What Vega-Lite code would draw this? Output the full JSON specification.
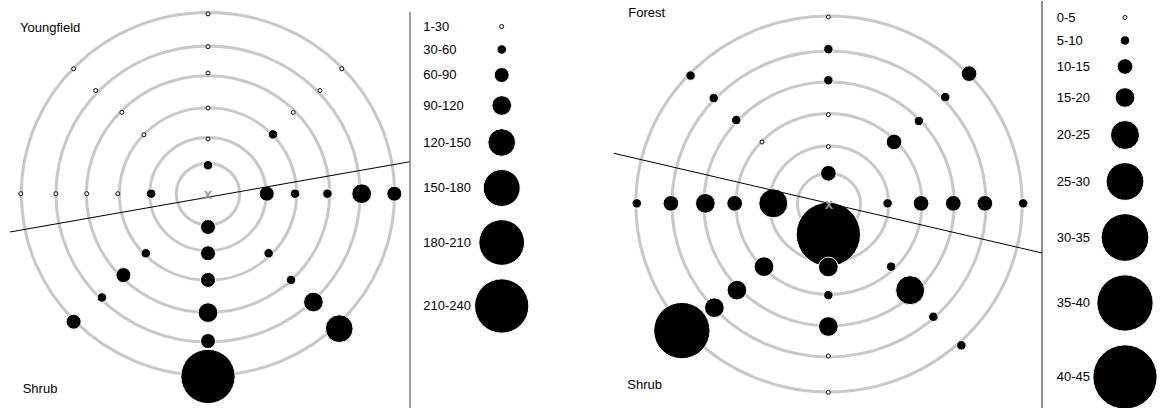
{
  "$schema": "https://vega.github.io/schema/vega-lite/v6.json",
  "padding": 0,
  "background": "white",
  "spacing": 190,
  "bounds": "flush",
  "config": {"view": {"stroke": null}},
  "resolve": {
    "scale": {"size": "independent", "fill": "independent", "stroke": "independent"},
    "legend": {"size": "independent", "fill": "independent", "stroke": "independent"}
  },
  "hconcat": [
    {
      "width": 410,
      "height": 408,
      "resolve": {"scale": {"size": "independent", "fill": "independent", "stroke": "independent"}},
      "layer": [
        {
          "data": {"values": [{"r": 1.02}, {"r": 1.87}, {"r": 2.85}, {"r": 3.91}, {"r": 4.89}, {"r": 6.0}]},
          "mark": {"type": "point", "shape": "M1,0C1,0.537,0.552,0.973,0,0.973C-0.552,0.973,-1,0.537,-1,0C-1,-0.537,-0.552,-0.973,0,-0.973C0.552,-0.973,1,-0.537,1,0Z", "filled": false, "color": "#c8c8c8", "strokeWidth": 3, "opacity": 1},
          "encoding": {
            "x": {"datum": 0, "type": "quantitative", "scale": {"domain": [-6.688, 6.495], "nice": false, "zero": false}, "axis": null},
            "y": {"datum": 0, "type": "quantitative", "scale": {"domain": [-7.105, 6.378], "nice": false, "zero": false}, "axis": null},
            "size": {"field": "r", "type": "quantitative", "scale": {"type": "pow", "exponent": 2, "domain": [0, 6], "range": [0, 139278]}, "legend": null}
          }
        },
        {
          "data": {"values": [
            {"x": 0, "y": 5.95, "n": 15}, {"x": 0, "y": 4.87, "n": 15}, {"x": 0, "y": 4.0, "n": 15}, {"x": 0, "y": 2.84, "n": 15}, {"x": 0, "y": 1.82, "n": 15}, {"x": 0, "y": 0.95, "n": 45},
            {"x": -4.32, "y": 4.14, "n": 15}, {"x": -3.61, "y": 3.42, "n": 15}, {"x": -2.77, "y": 2.70, "n": 15}, {"x": -2.06, "y": 1.96, "n": 15},
            {"x": 4.30, "y": 4.14, "n": 15}, {"x": 3.60, "y": 3.42, "n": 15}, {"x": 2.74, "y": 2.70, "n": 15}, {"x": 2.09, "y": 1.97, "n": 45},
            {"x": -6.02, "y": 0.01, "n": 15}, {"x": -4.89, "y": 0.01, "n": 15}, {"x": -3.90, "y": 0.01, "n": 15}, {"x": -2.90, "y": 0.01, "n": 15}, {"x": -1.83, "y": 0.01, "n": 45},
            {"x": 1.89, "y": 0.01, "n": 75}, {"x": 2.80, "y": 0.01, "n": 45}, {"x": 3.84, "y": 0.01, "n": 45}, {"x": 4.94, "y": 0.01, "n": 105}, {"x": 5.99, "y": 0.01, "n": 75},
            {"x": 0, "y": -1.09, "n": 75}, {"x": 0, "y": -1.96, "n": 75}, {"x": 0, "y": -2.84, "n": 75}, {"x": 0, "y": -3.92, "n": 105}, {"x": 0, "y": -4.86, "n": 75}, {"x": 0, "y": -6.03, "n": 225},
            {"x": -2.00, "y": -1.96, "n": 45}, {"x": -2.72, "y": -2.68, "n": 75}, {"x": -3.41, "y": -3.42, "n": 45}, {"x": -4.32, "y": -4.22, "n": 75},
            {"x": 1.95, "y": -1.96, "n": 45}, {"x": 2.67, "y": -2.84, "n": 45}, {"x": 3.39, "y": -3.57, "n": 105}, {"x": 4.22, "y": -4.45, "n": 135}
          ]},
          "mark": {"type": "circle", "opacity": 1, "strokeWidth": 1},
          "encoding": {
            "x": {"field": "x", "type": "quantitative", "axis": null},
            "y": {"field": "y", "type": "quantitative", "axis": null},
            "size": {
              "field": "n", "type": "quantitative",
              "scale": {"type": "threshold", "domain": [30, 60, 90, 120, 150, 180, 210], "range": [16, 90, 225, 388, 767, 1369, 2088, 2948]},
              "legend": {
                "orient": "none", "legendX": 423.3, "legendY": 19, "title": null, "padding": 0,
                "labelExpr": "['1-30','30-60','60-90','90-120','120-150','150-180','180-210','210-240'][datum.index]",
                "labelFont": "Liberation Sans", "labelFontSize": 13, "labelColor": "black",
                "rowPadding": 8, "symbolOffset": 50.4, "labelOffset": -106.4, "symbolStrokeWidth": 1, "symbolType": "circle"
              }
            },
            "fill": {"field": "n", "type": "quantitative", "scale": {"type": "threshold", "domain": [30, 60, 90, 120, 150, 180, 210], "range": ["white", "black", "black", "black", "black", "black", "black", "black"]}},
            "stroke": {"field": "n", "type": "quantitative", "scale": {"type": "threshold", "domain": [30, 60, 90, 120, 150, 180, 210], "range": ["black", "white", "white", "white", "white", "white", "white", "white"]}}
          }
        },
        {
          "data": {"values": [{"x1": -6.37, "y1": -1.256, "x2": 6.495, "y2": 1.067}]},
          "mark": {"type": "rule", "color": "black", "strokeWidth": 1},
          "encoding": {
            "x": {"field": "x1", "type": "quantitative", "axis": null},
            "y": {"field": "y1", "type": "quantitative", "axis": null},
            "x2": {"field": "x2"},
            "y2": {"field": "y2"}
          }
        },
        {
          "data": {"values": [{"x": 0, "y": 0, "t": "x"}]},
          "mark": {"type": "text", "color": "#999999", "fontSize": 15, "fontWeight": "bold", "font": "Liberation Sans", "align": "center", "baseline": "middle"},
          "encoding": {
            "x": {"field": "x", "type": "quantitative", "axis": null},
            "y": {"field": "y", "type": "quantitative", "axis": null},
            "text": {"field": "t"}
          }
        },
        {
          "data": {"values": [{"label": "Youngfield", "x": -6.045, "y": 5.496}, {"label": "Shrub", "x": -5.958, "y": -6.454}]},
          "mark": {"type": "text", "color": "black", "fontSize": 13, "font": "Liberation Sans", "align": "left", "baseline": "middle"},
          "encoding": {
            "x": {"field": "x", "type": "quantitative", "axis": null},
            "y": {"field": "y", "type": "quantitative", "axis": null},
            "text": {"field": "label"}
          }
        },
        {
          "data": {"values": [{"x": 6.495, "y1": 6.02, "y2": -7.105}]},
          "mark": {"type": "rule", "color": "#808080", "strokeWidth": 1.5},
          "encoding": {
            "x": {"field": "x", "type": "quantitative", "axis": null},
            "y": {"field": "y1", "type": "quantitative", "axis": null},
            "y2": {"field": "y2"}
          }
        }
      ]
    },
    {
      "width": 442,
      "height": 408,
      "resolve": {"scale": {"size": "independent", "fill": "independent", "stroke": "independent"}},
      "layer": [
        {
          "data": {"values": [{"r": 0.98}, {"r": 1.85}, {"r": 2.89}, {"r": 3.89}, {"r": 4.88}, {"r": 6.0}]},
          "mark": {"type": "point", "shape": "M1,0C1,0.537,0.552,0.973,0,0.973C-0.552,0.973,-1,0.537,-1,0C-1,-0.537,-0.552,-0.973,0,-0.973C0.552,-0.973,1,-0.537,1,0Z", "filled": false, "color": "#c8c8c8", "strokeWidth": 3, "opacity": 1},
          "encoding": {
            "x": {"datum": 0, "type": "quantitative", "scale": {"domain": [-7.112, 6.615], "nice": false, "zero": false}, "axis": null},
            "y": {"datum": 0, "type": "quantitative", "scale": {"domain": [-6.543, 6.479], "nice": false, "zero": false}, "axis": null},
            "size": {"field": "r", "type": "quantitative", "scale": {"type": "pow", "exponent": 2, "domain": [0, 6], "range": [0, 149305]}, "legend": null}
          }
        },
        {
          "data": {"values": [
            {"x": -0.02, "y": 5.97, "n": 2.5}, {"x": -0.02, "y": 4.94, "n": 7.5}, {"x": -0.02, "y": 3.95, "n": 7.5}, {"x": -0.02, "y": 2.85, "n": 2.5}, {"x": -0.02, "y": 1.83, "n": 2.5}, {"x": -0.02, "y": 0.98, "n": 12.5},
            {"x": -4.30, "y": 4.10, "n": 7.5}, {"x": -3.58, "y": 3.38, "n": 7.5}, {"x": -2.88, "y": 2.68, "n": 7.5}, {"x": -2.08, "y": 1.98, "n": 2.5},
            {"x": 4.35, "y": 4.16, "n": 12.5}, {"x": 3.61, "y": 3.41, "n": 7.5}, {"x": 2.79, "y": 2.65, "n": 7.5}, {"x": 2.02, "y": 1.98, "n": 12.5},
            {"x": 1.82, "y": 0.02, "n": 7.5}, {"x": 2.86, "y": 0.02, "n": 12.5}, {"x": 3.86, "y": 0.02, "n": 12.5}, {"x": 4.84, "y": 0.02, "n": 12.5}, {"x": 6.03, "y": 0.02, "n": 7.5},
            {"x": -5.97, "y": 0.02, "n": 7.5}, {"x": -4.91, "y": 0.02, "n": 12.5}, {"x": -3.84, "y": 0.02, "n": 17.5}, {"x": -2.93, "y": 0.02, "n": 12.5}, {"x": -1.73, "y": 0.02, "n": 22.5},
            {"x": -0.02, "y": -0.97, "n": 42.5}, {"x": -0.02, "y": -2.01, "n": 17.5}, {"x": -0.02, "y": -2.91, "n": 7.5}, {"x": -0.02, "y": -3.91, "n": 17.5}, {"x": -0.02, "y": -4.85, "n": 2.5}, {"x": -0.02, "y": -6.01, "n": 2.5},
            {"x": -2.02, "y": -2.00, "n": 17.5}, {"x": -2.86, "y": -2.75, "n": 17.5}, {"x": -3.56, "y": -3.31, "n": 17.5}, {"x": -4.57, "y": -4.04, "n": 37.5},
            {"x": 1.93, "y": -2.00, "n": 7.5}, {"x": 2.52, "y": -2.75, "n": 22.5}, {"x": 3.24, "y": -3.60, "n": 7.5}, {"x": 4.11, "y": -4.51, "n": 7.5}
          ]},
          "mark": {"type": "circle", "opacity": 1, "strokeWidth": 1},
          "encoding": {
            "x": {"field": "x", "type": "quantitative", "axis": null},
            "y": {"field": "y", "type": "quantitative", "axis": null},
            "size": {
              "field": "n", "type": "quantitative",
              "scale": {"type": "threshold", "domain": [5, 10, 15, 20, 25, 30, 35, 40], "range": [16, 90, 246, 388, 841, 1421, 2275, 3170, 4134]},
              "legend": {
                "orient": "none", "legendX": 456.7, "legendY": 10, "title": null, "padding": 0,
                "labelExpr": "['0-5','5-10','10-15','15-20','20-25','25-30','30-35','35-40','40-45'][datum.index]",
                "labelFont": "Liberation Sans", "labelFontSize": 13, "labelColor": "black",
                "rowPadding": 8, "symbolOffset": 35.3, "labelOffset": -101.3, "symbolStrokeWidth": 1, "symbolType": "circle"
              }
            },
            "fill": {"field": "n", "type": "quantitative", "scale": {"type": "threshold", "domain": [5, 10, 15, 20, 25, 30, 35, 40], "range": ["white", "black", "black", "black", "black", "black", "black", "black", "black"]}},
            "stroke": {"field": "n", "type": "quantitative", "scale": {"type": "threshold", "domain": [5, 10, 15, 20, 25, 30, 35, 40], "range": ["black", "white", "white", "white", "white", "white", "white", "white", "white"]}}
          }
        },
        {
          "data": {"values": [{"x1": -6.68, "y1": 1.618, "x2": 6.615, "y2": -1.564}]},
          "mark": {"type": "rule", "color": "black", "strokeWidth": 1},
          "encoding": {
            "x": {"field": "x1", "type": "quantitative", "axis": null},
            "y": {"field": "y1", "type": "quantitative", "axis": null},
            "x2": {"field": "x2"},
            "y2": {"field": "y2"}
          }
        },
        {
          "data": {"values": [{"x": 0, "y": 0, "t": "x"}]},
          "mark": {"type": "text", "color": "#999999", "fontSize": 15, "fontWeight": "bold", "font": "Liberation Sans", "align": "center", "baseline": "middle"},
          "encoding": {
            "x": {"field": "x", "type": "quantitative", "axis": null},
            "y": {"field": "y", "type": "quantitative", "axis": null},
            "text": {"field": "t"}
          }
        },
        {
          "data": {"values": [{"label": "Forest", "x": -6.233, "y": 6.106}, {"label": "Shrub", "x": -6.264, "y": -5.777}]},
          "mark": {"type": "text", "color": "black", "fontSize": 13, "font": "Liberation Sans", "align": "left", "baseline": "middle"},
          "encoding": {
            "x": {"field": "x", "type": "quantitative", "axis": null},
            "y": {"field": "y", "type": "quantitative", "axis": null},
            "text": {"field": "label"}
          }
        },
        {
          "data": {"values": [{"x": 6.615, "y1": 6.479, "y2": -6.543}]},
          "mark": {"type": "rule", "color": "#222222", "strokeWidth": 1},
          "encoding": {
            "x": {"field": "x", "type": "quantitative", "axis": null},
            "y": {"field": "y1", "type": "quantitative", "axis": null},
            "y2": {"field": "y2"}
          }
        }
      ]
    }
  ]
}
